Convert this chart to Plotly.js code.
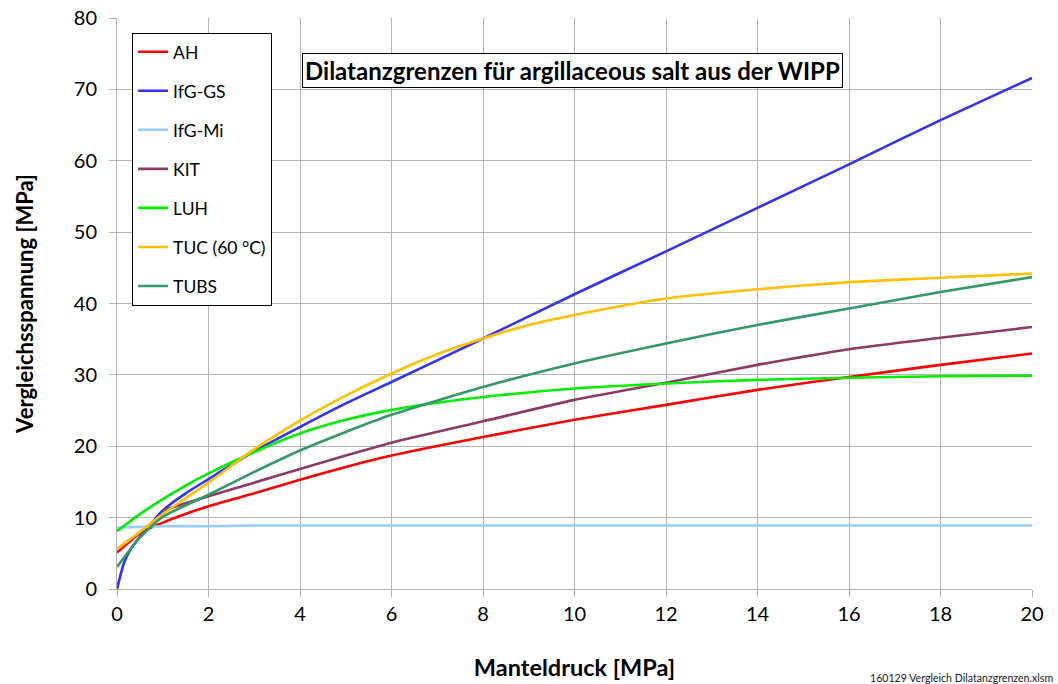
<!DOCTYPE html>
<html>
<head>
<meta charset="utf-8">
<script src="https://cdn.plot.ly/plotly-3.0.1.min.js"></script>
<style>html,body{margin:0;padding:0;background:#fff;}#chart{width:1058px;height:684px;}</style>
</head>
<body>
<div id="chart"></div>
<script>
// ---- data ----
const seriesNames = ["AH", "IfG-GS", "IfG-Mi", "KIT", "LUH", "TUC (60 °C)", "TUBS"];

const xAH = [0, 0.5, 1, 2, 3, 4, 5, 6, 8, 10, 12, 14, 16, 18, 20];
const yAH = [5.1, 7.8, 9.3, 11.6, 13.4, 15.3, 17.1, 18.7, 21.3, 23.7, 25.8, 27.9, 29.7, 31.4, 33.0];

const xIfGGS = [0, 0.15, 0.3, 0.5, 0.75, 1, 1.5, 2, 3, 4, 5, 6, 8, 10, 12, 14, 16, 18, 20];
const yIfGGS = [0, 3.6, 5.6, 7.3, 9.2, 11.0, 13.4, 15.4, 19.3, 22.7, 26.0, 29.0, 35.1, 41.3, 47.3, 53.4, 59.5, 65.7, 71.6];

const xIfGMi = [0, 0.5, 1, 2, 3, 4, 6, 8, 10, 12, 14, 16, 18, 20];
const yIfGMi = [8.6, 8.7, 8.8, 8.8, 8.9, 8.9, 8.9, 8.9, 8.9, 8.9, 8.9, 8.9, 8.9, 8.9];

const xKIT = [1, 1.5, 2, 3, 4, 5, 6, 8, 10, 12, 14, 16, 18, 20];
const yKIT = [11.0, 12.0, 13.0, 14.9, 16.8, 18.7, 20.5, 23.5, 26.5, 28.9, 31.4, 33.6, 35.2, 36.7];

const xLUH = [0, 0.5, 1, 1.5, 2, 3, 4, 5, 6, 7, 8, 10, 12, 14, 16, 18, 20];
const yLUH = [8.1, 10.5, 12.6, 14.5, 16.2, 19.2, 21.8, 23.7, 25.1, 26.1, 26.9, 28.1, 28.8, 29.3, 29.6, 29.8, 29.9];

const xTUC = [0, 0.5, 1, 2, 3, 4, 5, 6, 7, 8, 9, 10, 12, 14, 16, 18, 20];
const yTUC = [5.6, 8.0, 10.5, 14.9, 19.6, 23.6, 27.1, 30.2, 32.9, 35.1, 37.0, 38.4, 40.7, 42.0, 43.0, 43.6, 44.2];

const xTUBS = [0, 0.5, 1, 2, 3, 4, 5, 6, 8, 10, 12, 14, 16, 18, 20];
const yTUBS = [3.1, 7.2, 10.1, 13.2, 16.4, 19.4, 22.0, 24.4, 28.3, 31.6, 34.4, 37.0, 39.3, 41.6, 43.7];

const xTicks = [0, 2, 4, 6, 8, 10, 12, 14, 16, 18, 20];
const yTicks = [0, 10, 20, 30, 40, 50, 60, 70, 80];

const chartTitle = "Dilatanzgrenzen für argillaceous salt aus der WIPP";
const xTitle = "Manteldruck [MPa]";
const yTitle = "Vergleichsspannung [MPa]";
const footnote = "160129 Vergleich Dilatanzgrenzen.xlsm";

// ---- styling ----
const colors = ["#ff0000", "#3333ee", "#99ccff", "#8e3a66", "#00ee00", "#ffc000", "#339966"];
const xs = [xAH, xIfGGS, xIfGMi, xKIT, xLUH, xTUC, xTUBS];
const ys = [yAH, yIfGGS, yIfGMi, yKIT, yLUH, yTUC, yTUBS];
const FONT = "Lato, 'Open Sans', sans-serif";

const traces = seriesNames.map((n, i) => ({
  type: "scatter",
  mode: "lines",
  name: n,
  x: xs[i],
  y: ys[i],
  legendgroup: "g" + i,
  line: {color: colors[i], width: 2.6, shape: "spline", smoothing: 0.6}
}));

const layout = {
  width: 1058,
  height: 684,
  margin: {l: 117, r: 26, t: 18, b: 95},
  paper_bgcolor: "#ffffff",
  plot_bgcolor: "#ffffff",
  font: {family: FONT, color: "#000"},
  showlegend: true,
  legend: {
    x: 0.0165, y: 0.974, xanchor: "left", yanchor: "top",
    bgcolor: "#ffffff", bordercolor: "#000000", borderwidth: 1,
    font: {size: 17.5, family: FONT, color: "#000"},
    tracegroupgap: 13.3,
    itemwidth: 30
  },
  xaxis: {
    range: [0, 20],
    tickvals: xTicks,
    ticktext: xTicks.map(String),
    showgrid: true, gridcolor: "#b4b4b4", gridwidth: 1,
    zeroline: false,
    showline: true, linecolor: "#b4b4b4", linewidth: 1,
    ticks: "outside", ticklen: 7, tickcolor: "#b4b4b4",
    tickfont: {size: 20, family: FONT},
    title: {text: "<b>" + xTitle + "</b>", font: {size: 23.5, family: FONT}, standoff: 35}
  },
  yaxis: {
    range: [0, 80],
    tickvals: yTicks,
    ticktext: yTicks.map(String),
    showgrid: true, gridcolor: "#b4b4b4", gridwidth: 1,
    zeroline: false,
    showline: true, linecolor: "#b4b4b4", linewidth: 1,
    ticks: "outside", ticklen: 7, tickcolor: "#b4b4b4",
    ticklabelstandoff: 8,
    tickfont: {size: 20, family: FONT},
    title: {text: "<b>" + yTitle + "</b>", font: {size: 22, family: FONT}, standoff: 34}
  },
  annotations: [
    {
      xref: "x", yref: "y", x: 9.95, y: 72.7,
      text: "<b>" + chartTitle + "</b>",
      showarrow: false,
      font: {size: 24, family: FONT, color: "#000"},
      bgcolor: "#ffffff", bordercolor: "#000000", borderwidth: 1, borderpad: 2
    },
    {
      xref: "paper", yref: "paper", x: 1.025, y: -0.155,
      xanchor: "right", yanchor: "middle",
      text: footnote, showarrow: false,
      font: {size: 10.6, family: FONT, color: "#222"}
    }
  ]
};

Plotly.newPlot("chart", traces, layout, {displayModeBar: false, staticPlot: true});
</script>
</body>
</html>
